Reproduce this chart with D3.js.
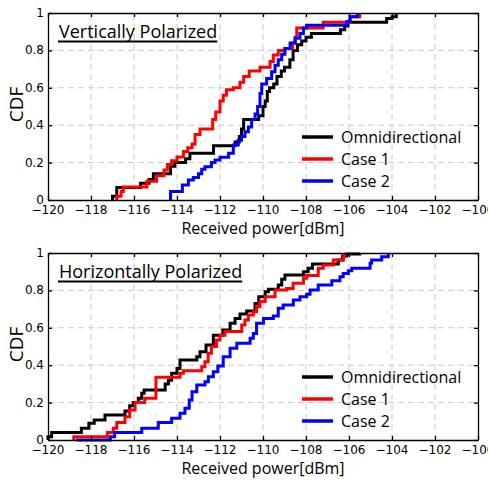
<!DOCTYPE html>
<html>
<head>
<meta charset="utf-8">
<script src="https://cdn.jsdelivr.net/npm/d3@7"></script>
<style>
  body { margin: 0; background: #fff; }
  text { font-family: "Open Sans", "Noto Sans", sans-serif; }
  text.ticklab { font-family: "DejaVu Sans", sans-serif; font-size: 12px; fill: #000; }
</style>
</head>
<body>
<svg id="chart" width="488" height="480"></svg>
<script>
// tick values
var xTickValues = [-120, -118, -116, -114, -112, -110, -108, -106, -104, -102, -100];
var yTickValues = [0, 0.2, 0.4, 0.6, 0.8, 1];

// legend labels + colours
var seriesNames = ["Omnidirectional", "Case 1", "Case 2"];
var seriesColors = ["#000000", "#ff0000", "#0000ff"];

// step points [received power dBm, CDF after step]
var vertOmni = [[-117.0, 0.02], [-116.8, 0.067], [-115.7, 0.09], [-115.3, 0.11], [-115.1, 0.14], [-114.3, 0.18],
  [-114.1, 0.2], [-113.6, 0.22], [-113.4, 0.25], [-112.3, 0.29], [-111.3, 0.31], [-111.1, 0.34], [-111.0, 0.38],
  [-110.9, 0.43], [-110.2, 0.45], [-110.0, 0.5], [-109.9, 0.53], [-109.8, 0.58], [-109.7, 0.6], [-109.5, 0.62],
  [-109.35, 0.66], [-109.15, 0.69], [-109.0, 0.71], [-108.75, 0.75], [-108.6, 0.8], [-108.4, 0.83], [-108.2, 0.85],
  [-108.0, 0.87], [-107.75, 0.89], [-106.4, 0.91], [-106.2, 0.93], [-106.05, 0.95], [-104.25, 0.97], [-104.0, 0.98],
  [-103.8, 1.0]];
var vertCase1 = [[-116.8, 0.02], [-116.6, 0.045], [-116.5, 0.07], [-115.4, 0.1], [-114.95, 0.13], [-114.6, 0.16],
  [-114.45, 0.19], [-114.25, 0.21], [-114.0, 0.23], [-113.7, 0.26], [-113.5, 0.28], [-113.3, 0.3], [-113.16, 0.35],
  [-112.93, 0.38], [-112.34, 0.43], [-112.2, 0.47], [-112.0, 0.53], [-111.85, 0.56], [-111.7, 0.59], [-111.38, 0.6],
  [-111.07, 0.63], [-110.9, 0.66], [-110.64, 0.69], [-110.14, 0.71], [-109.67, 0.74], [-109.52, 0.775],
  [-109.29, 0.8], [-108.98, 0.81], [-108.62, 0.84], [-108.5, 0.87], [-108.43, 0.92], [-107.2, 0.95],
  [-105.95, 0.98], [-105.5, 1.0]];
var vertCase2 = [[-114.3, 0.045], [-113.75, 0.08], [-113.47, 0.107], [-113.24, 0.12], [-113.0, 0.14], [-112.85, 0.164],
  [-112.7, 0.178], [-112.4, 0.2], [-112.23, 0.214], [-112.0, 0.228], [-111.6, 0.25], [-111.38, 0.294], [-111.15, 0.32],
  [-111.0, 0.34], [-110.84, 0.365], [-110.68, 0.39], [-110.53, 0.43], [-110.37, 0.46], [-110.25, 0.5], [-110.14, 0.57],
  [-110.06, 0.62], [-109.83, 0.65], [-109.6, 0.686], [-109.44, 0.72], [-109.29, 0.75], [-109.13, 0.78], [-108.98, 0.81],
  [-108.74, 0.84], [-108.51, 0.865], [-108.28, 0.89], [-108.12, 0.92], [-107.97, 0.935], [-106.1, 0.955],
  [-105.95, 0.98], [-105.6, 1.0]];

var horiOmni = [[-120.0, 0.018], [-119.83, 0.04], [-118.45, 0.063], [-118.1, 0.09], [-117.85, 0.107], [-117.35, 0.134],
  [-116.42, 0.155], [-116.2, 0.183], [-116.03, 0.2], [-115.8, 0.223], [-115.64, 0.25], [-115.53, 0.267], [-114.55, 0.3],
  [-114.4, 0.32], [-114.25, 0.357], [-114.0, 0.383], [-113.86, 0.428], [-113.08, 0.445], [-112.93, 0.472],
  [-112.65, 0.508], [-112.31, 0.56], [-111.87, 0.588], [-111.53, 0.624], [-111.3, 0.65], [-111.07, 0.674],
  [-110.76, 0.69], [-110.37, 0.73], [-110.2, 0.766], [-109.9, 0.793], [-109.75, 0.806], [-109.29, 0.829],
  [-109.13, 0.859], [-108.98, 0.882], [-108.12, 0.9], [-107.9, 0.918], [-107.7, 0.941], [-106.5, 0.963],
  [-106.3, 0.984], [-106.1, 0.995], [-105.5, 1.0]];
var horiCase1 = [[-118.8, 0.018], [-117.24, 0.04], [-116.96, 0.063], [-116.8, 0.093], [-116.42, 0.125], [-116.2, 0.16],
  [-115.95, 0.2], [-115.5, 0.223], [-114.98, 0.335], [-113.86, 0.357], [-113.7, 0.37], [-112.85, 0.392], [-112.7, 0.419],
  [-112.55, 0.464], [-112.4, 0.5], [-112.16, 0.535], [-112.0, 0.56], [-111.77, 0.58], [-110.99, 0.615], [-110.84, 0.642],
  [-110.68, 0.668], [-110.45, 0.686], [-110.3, 0.713], [-110.14, 0.74], [-109.9, 0.766], [-109.44, 0.802],
  [-108.9, 0.81], [-108.6, 0.838], [-108.12, 0.865], [-107.97, 0.88], [-107.43, 0.918], [-107.2, 0.936],
  [-106.73, 0.963], [-106.26, 0.99], [-106.19, 1.0]];
var horiCase2 = [[-118.7, 0.0], [-117.1, 0.018], [-116.9, 0.04], [-115.64, 0.063], [-114.87, 0.093], [-114.25, 0.116],
  [-113.86, 0.143], [-113.63, 0.17], [-113.43, 0.214], [-113.3, 0.258], [-113.08, 0.294], [-112.7, 0.312],
  [-112.54, 0.338], [-112.31, 0.365], [-112.1, 0.396], [-111.85, 0.445], [-111.53, 0.49], [-111.22, 0.517],
  [-110.6, 0.544], [-110.45, 0.57], [-110.3, 0.624], [-109.98, 0.65], [-109.52, 0.663], [-109.29, 0.704],
  [-109.06, 0.722], [-108.59, 0.749], [-108.28, 0.766], [-107.97, 0.779], [-107.81, 0.802], [-107.43, 0.829],
  [-106.8, 0.852], [-106.42, 0.873], [-106.27, 0.891], [-106.03, 0.905], [-105.87, 0.918], [-105.02, 0.945],
  [-104.95, 0.963], [-104.48, 0.98], [-104.17, 1.0]];

var svg = d3.select("#chart");
var left = 48, right = 478, plotH = 187;

var x = d3.scaleLinear().domain([-120, -100]).range([left, right]);
var fmt = d3.format("");

function drawPanel(top, title, series) {
  var y = d3.scaleLinear().domain([0, 1]).range([top + plotH, top]);
  var g = svg.append("g");

  // dashed grid, inner ticks only
  g.selectAll(".vgrid").data(xTickValues.slice(1, -1)).enter().append("line")
    .attr("x1", function(d) { return x(d); }).attr("x2", function(d) { return x(d); })
    .attr("y1", y(0)).attr("y2", y(1))
    .style("stroke", "#c8c8c8").style("stroke-width", 1).style("stroke-dasharray", "6,4");
  g.selectAll(".hgrid").data(yTickValues.slice(1, -1)).enter().append("line")
    .attr("x1", left).attr("x2", right)
    .attr("y1", function(d) { return y(d); }).attr("y2", function(d) { return y(d); })
    .style("stroke", "#c8c8c8").style("stroke-width", 1).style("stroke-dasharray", "6,4");

  // title
  var t = g.append("text").attr("x", 59).attr("y", top + 25)
    .style("font-size", "18px").style("fill", "#000").text(title);
  var tw = t.node().getComputedTextLength();
  g.append("line").attr("x1", 58).attr("x2", 59 + tw).attr("y1", top + 28.5).attr("y2", top + 28.5)
    .style("stroke", "#000").style("stroke-width", 2);

  // step curves
  var line = d3.line().curve(d3.curveStepAfter)
    .x(function(d) { return x(d[0]); }).y(function(d) { return y(d[1]); });
  series.forEach(function(s, i) {
    var pts = [[s[0][0], 0]].concat(s);
    g.append("path").datum(pts).attr("d", line)
      .style("fill", "none").style("stroke", seriesColors[i]).style("stroke-width", 3);
  });

  // frame + inward ticks (labels drawn separately)
  g.append("g").attr("transform", "translate(0," + y(0) + ")")
    .call(d3.axisBottom(x).tickValues(xTickValues).tickSize(-4).tickSizeOuter(0).tickFormat(""));
  g.append("g").attr("transform", "translate(0," + y(1) + ")")
    .call(d3.axisTop(x).tickValues(xTickValues).tickSize(-4).tickSizeOuter(0).tickFormat(""));
  g.append("g").attr("transform", "translate(" + left + ",0)")
    .call(d3.axisLeft(y).tickValues(yTickValues).tickSize(-4).tickSizeOuter(0).tickFormat(""));
  g.append("g").attr("transform", "translate(" + right + ",0)")
    .call(d3.axisRight(y).tickValues(yTickValues).tickSize(-4).tickSizeOuter(0).tickFormat(""));
  g.selectAll(".domain").style("stroke", "#000").style("stroke-width", 1.3);
  g.selectAll(".tick line").style("stroke", "#000").style("stroke-width", 1.3);

  g.selectAll(".xlab").data(xTickValues).enter().append("text").attr("class", "ticklab")
    .attr("x", function(d) { return x(d); }).attr("y", y(0) + 14)
    .attr("text-anchor", "middle").text(fmt);
  g.selectAll(".ylab").data(yTickValues).enter().append("text").attr("class", "ticklab")
    .attr("x", left - 4).attr("y", function(d) { return y(d) + 4; })
    .attr("text-anchor", "end").text(fmt);

  // axis titles
  g.append("text").attr("transform", "translate(16," + (top + plotH / 2 - 2) + ") rotate(-90)")
    .attr("text-anchor", "middle").attr("dominant-baseline", "central")
    .style("font-size", "19px").text("CDF");
  g.append("text").attr("x", (left + right) / 2).attr("y", top + plotH + 34)
    .attr("text-anchor", "middle").style("font-size", "16px").text("Received power[dBm]");

  // legend
  seriesNames.forEach(function(name, i) {
    var ly = top + 124 + i * 22;
    g.append("line").attr("x1", 302).attr("x2", 333).attr("y1", ly).attr("y2", ly)
      .style("stroke", seriesColors[i]).style("stroke-width", 3.5);
    g.append("text").attr("x", 341).attr("y", ly).attr("dominant-baseline", "central")
      .style("font-size", "16px").text(name);
  });
}

drawPanel(13, "Vertically Polarized", [vertOmni, vertCase1, vertCase2]);
drawPanel(253, "Horizontally Polarized", [horiOmni, horiCase1, horiCase2]);
</script>
</body>
</html>
